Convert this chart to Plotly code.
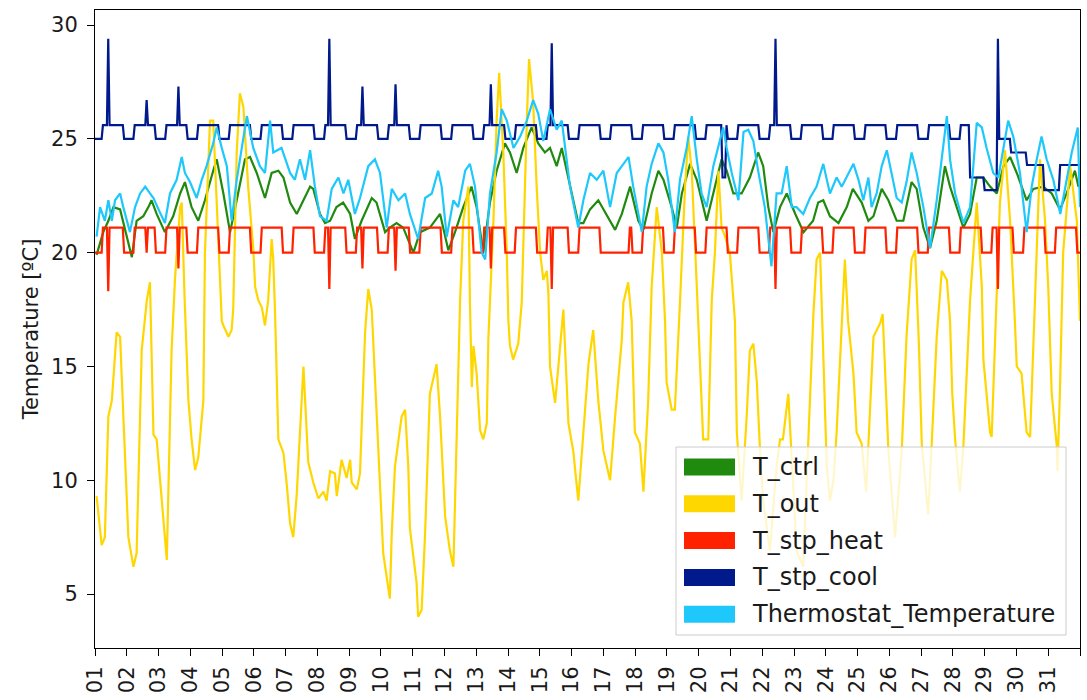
import numpy as np
import pandas as pd
import plotly.graph_objects as go

# ---------------- data (day offsets from the 1st of the month, values in ºC) ----------------
OUT_T = [0.05,0.21,0.31,0.42,0.53,0.68,0.79,1.05,1.21,1.31,1.47,1.63,1.73,1.84,1.94,2.26,2.41,2.52,2.68,2.73,
         2.82,2.94,3.04,3.15,3.25,3.41,3.46,3.57,3.62,3.72,3.88,3.99,4.04,4.20,4.30,4.35,4.46,4.56,4.67,4.82,
         4.98,5.04,5.14,5.25,5.35,5.45,5.56,5.61,5.67,5.77,5.93,6.03,6.14,6.24,6.35,6.56,6.71,6.87,7.03,7.19,
         7.29,7.40,7.55,7.61,7.76,7.92,8.03,8.08,8.24,8.34,8.50,8.60,8.71,8.76,9.07,9.28,9.34,9.44,9.65,9.76,
         9.86,9.91,10.02,10.12,10.17,10.28,10.39,10.54,10.75,10.86,11.02,11.17,11.28,11.38,11.49,11.59,11.75,11.80,11.86,11.91,
         12.01,12.12,12.22,12.33,12.38,12.54,12.64,12.72,12.85,12.96,13.01,13.06,13.16,13.32,13.43,13.59,13.66,13.79,13.90,14.01,
         14.11,14.22,14.27,14.32,14.48,14.64,14.74,14.90,15.05,15.21,15.32,15.53,15.68,15.84,16.00,16.21,16.37,16.58,16.63,16.78,
         16.89,16.99,17.15,17.26,17.41,17.52,17.68,17.84,17.94,17.99,18.15,18.25,18.41,18.57,18.67,18.78,18.94,19.04,19.14,19.30,
         19.41,19.51,19.62,19.72,19.83,19.98,20.14,20.20,20.35,20.51,20.61,20.72,20.83,20.93,21.03,21.24,21.45,21.56,21.65,21.82,
         21.93,22.08,22.29,22.50,22.61,22.71,22.82,22.91,23.03,23.13,23.24,23.34,23.55,23.60,23.70,23.87,23.97,24.13,24.27,24.50,
         24.71,24.79,24.86,24.97,25.18,25.39,25.54,25.70,25.81,25.93,26.02,26.22,26.33,26.49,26.65,26.81,26.91,26.98,27.07,27.22,
         27.33,27.54,27.75,27.91,27.96,28.17,28.22,28.38,28.48,28.64,28.80,28.95,29.01,29.16,29.32,29.43,29.58,29.74,29.90,30.00,
         30.11,30.27,30.29,30.37,30.47,30.69,30.90,31.00]
OUT_V = [9.3,7.15,7.5,12.8,13.5,16.5,16.3,7.5,6.2,6.8,15.7,17.9,18.7,12.0,11.8,6.5,15.7,18.9,22.0,22.2,
         18.0,13.5,11.8,10.45,11.0,13.5,20.0,24.4,25.8,25.8,20.7,17.0,16.8,16.3,16.6,17.5,24.4,27.0,26.4,22.9,
         20.2,18.5,17.9,17.6,16.8,17.9,20.6,19.7,17.2,11.8,11.2,9.9,8.1,7.5,9.4,15.0,10.8,9.9,9.2,9.5,
         9.1,10.4,10.3,9.3,10.9,10.1,10.9,9.9,9.6,10.3,16.5,18.4,17.5,16.0,6.8,4.8,7.7,10.6,12.8,13.1,
         10.6,7.9,6.5,5.5,4.0,4.3,7.7,13.8,15.1,12.8,8.4,6.9,6.2,11.3,17.9,21.4,22.9,17.8,14.1,15.9,
         14.7,12.2,11.8,12.5,16.2,21.4,25.8,27.9,24.4,20.0,17.0,15.9,15.3,16.0,17.8,25.8,28.5,26.6,22.9,20.0,
         18.8,19.2,18.2,15.0,13.4,15.9,17.5,12.5,11.3,9.1,11.3,15.1,16.6,13.5,11.3,10.0,12.8,16.2,17.8,18.7,
         17.0,12.1,11.6,9.5,13.5,18.5,22.0,20.0,17.0,14.3,13.1,13.1,17.8,22.9,25.1,23.6,18.5,15.0,11.8,11.8,
         17.9,20.0,23.6,21.1,20.7,20.0,17.0,12.1,9.1,12.8,15.7,16.0,14.3,11.3,9.1,6.9,10.6,11.8,11.8,13.8,
         10.6,6.9,6.2,13.5,17.3,19.7,20.0,16.0,10.6,9.1,10.0,12.1,17.9,19.7,17.0,14.7,12.1,11.6,9.5,16.3,
         16.9,17.3,15.0,11.3,7.5,11.3,16.3,19.7,20.1,16.0,11.6,8.5,11.5,16.3,19.2,18.8,17.0,13.8,11.8,9.5,
         11.5,17.9,22.2,18.5,15.3,12.1,11.9,17.9,22.2,24.5,21.4,17.0,15.0,14.7,12.1,11.9,17.9,24.1,21.4,18.5,
         13.8,11.5,10.4,14.0,20.0,23.8,21.4,17.0]

CTRL_T = [0.05,0.26,0.42,0.58,0.79,1.00,1.16,1.31,1.52,1.68,1.78,1.94,2.20,2.46,2.68,2.83,3.04,3.25,3.46,3.72,
          3.83,4.04,4.25,4.46,4.72,4.88,5.09,5.35,5.56,5.77,5.93,6.14,6.35,6.56,6.77,6.87,7.08,7.24,7.40,7.60,
          7.81,8.03,8.18,8.39,8.71,8.86,9.13,9.28,9.49,9.70,10.02,10.23,10.54,10.86,11.12,11.33,11.59,11.85,12.01,12.22,
          12.43,12.64,12.90,13.06,13.27,13.48,13.74,13.95,14.16,14.32,14.53,14.69,14.95,15.21,15.37,15.58,15.84,16.21,16.37,16.58,
          16.84,17.10,17.26,17.52,17.73,17.89,18.15,18.31,18.47,18.73,18.94,19.25,19.51,19.72,19.88,20.09,20.35,20.61,20.87,21.03,
          21.19,21.35,21.56,21.77,22.04,22.30,22.60,22.76,22.92,23.13,23.40,23.66,23.85,24.13,24.34,24.50,24.76,24.97,25.23,25.44,
          25.70,25.86,26.07,26.28,26.49,26.75,26.91,27.12,27.33,27.54,27.75,27.96,28.17,28.38,28.59,28.80,29.01,29.32,29.53,29.84,
          30.11,30.37,30.58,30.84,30.95,31.00]
CTRL_V = [19.9,20.9,21.4,22.0,21.9,20.7,19.8,21.4,21.6,22.0,22.3,21.7,20.9,21.6,22.6,23.1,22.0,21.4,22.3,23.6,
          24.1,22.6,20.9,22.3,24.1,24.2,23.5,22.4,23.5,23.6,23.3,22.2,21.7,22.3,22.9,22.8,21.7,21.3,21.4,22.0,
          22.2,21.7,20.6,21.4,22.4,22.2,20.9,21.1,21.3,21.1,20.0,20.9,21.1,21.7,20.1,20.9,22.0,22.9,22.0,20.0,
          22.2,23.6,24.8,24.4,23.5,24.6,25.5,24.8,24.4,24.6,23.8,24.6,22.9,21.3,21.3,21.9,22.3,21.4,21.0,21.7,
          22.9,21.4,21.0,22.6,23.6,23.2,22.0,21.1,22.6,23.9,23.2,21.4,22.9,24.1,23.6,22.6,22.6,23.3,24.4,23.8,
          22.0,20.9,22.0,22.6,21.7,20.9,21.4,22.2,22.3,21.6,21.3,22.0,22.8,22.2,21.4,21.6,22.8,22.3,21.4,21.4,
          23.1,22.8,21.1,20.2,21.4,23.8,22.9,22.0,21.1,21.7,23.3,23.3,22.9,22.6,23.8,24.2,23.5,22.3,22.8,22.9,
          22.6,21.9,22.6,23.6,22.9,23.0]

THERMO_T = [0.05,0.16,0.31,0.42,0.53,0.63,0.79,0.89,1.10,1.26,1.42,1.58,1.73,1.84,2.00,2.20,2.36,2.57,2.73,2.83,
            2.99,3.20,3.36,3.51,3.72,3.83,3.99,4.15,4.30,4.46,4.62,4.78,4.98,5.19,5.35,5.51,5.61,5.87,6.14,6.29,
            6.45,6.61,6.77,6.92,7.08,7.29,7.45,7.66,7.82,7.97,8.18,8.34,8.60,8.81,8.97,9.18,9.34,9.55,9.76,9.91,
            10.17,10.39,10.60,10.80,10.91,11.07,11.28,11.43,11.65,11.80,11.96,12.17,12.28,12.43,12.64,12.80,12.96,13.17,13.38,13.59,
            13.79,13.95,14.11,14.32,14.53,14.69,14.95,15.11,15.21,15.37,15.58,15.79,16.00,16.21,16.42,16.58,16.79,16.94,17.21,17.36,
            17.52,17.73,17.89,18.04,18.25,18.41,18.62,18.78,18.94,19.09,19.25,19.46,19.67,19.77,19.88,20.04,20.25,20.41,20.56,20.72,
            20.87,21.08,21.29,21.45,21.61,21.77,21.93,22.08,22.29,22.50,22.71,22.92,23.13,23.34,23.50,23.87,24.03,24.18,24.34,24.44,
            24.60,24.76,24.92,25.07,25.23,25.39,25.54,25.70,25.86,26.07,26.28,26.49,26.65,26.81,26.91,27.07,27.33,27.54,27.75,27.91,
            28.06,28.27,28.43,28.59,28.74,28.90,29.11,29.32,29.48,29.64,29.79,29.95,30.16,30.38,30.53,30.74,30.93,31.00]
THERMO_V = [20.7,22.0,21.4,22.3,21.4,22.3,22.6,22.0,20.9,22.0,22.6,22.9,22.6,22.4,21.9,21.3,22.6,23.2,24.2,23.5,
            23.1,22.4,23.2,23.8,24.8,25.5,24.6,23.8,21.4,23.2,24.6,26.0,24.6,23.8,23.5,25.8,24.4,24.6,23.5,23.2,
            24.1,23.2,24.5,22.9,21.6,21.4,22.8,23.3,22.6,23.2,21.7,22.4,23.8,24.1,23.5,21.1,22.8,22.3,22.6,21.7,
            20.6,22.4,22.6,23.6,22.9,20.7,22.3,22.0,23.6,23.9,22.9,20.0,19.7,22.6,24.4,26.3,25.8,24.6,25.1,25.8,
            26.7,26.1,24.9,26.3,25.4,25.8,22.9,21.7,21.1,22.3,23.5,23.2,23.6,22.0,23.5,23.8,24.2,22.9,20.9,22.9,
            23.9,24.8,24.4,23.2,20.9,23.2,24.6,26.0,24.1,22.6,22.0,23.8,24.9,25.5,24.6,23.5,22.3,25.3,25.4,24.9,
            23.6,22.0,19.4,22.6,22.6,23.8,22.0,22.0,21.7,22.4,22.9,23.9,22.6,23.3,22.9,23.9,23.2,22.3,23.3,22.0,
            22.6,23.8,24.5,23.5,22.4,22.2,23.1,24.4,23.5,22.0,20.2,22.3,24.1,26.0,24.1,22.6,21.3,22.0,25.7,25.5,
            24.6,23.5,23.3,24.6,25.8,25.1,23.5,20.9,22.9,24.1,25.1,24.1,23.2,21.7,22.9,24.4,25.5,22.0]

# set-point levels
HEAT_DAY, HEAT_NIGHT = 21.1, 20.0
COOL_DAY, COOL_NIGHT = 25.6, 25.0
# night set-back windows, in hours from the start of the month (low level from start up to end-1)
NIGHTS = [(-2, 6), (22, 30), (46, 54), (70, 78), (94, 102), (118, 126), (142, 150), (166, 174),
          (190, 198), (214, 222), (238, 246), (262, 270), (286, 294), (310, 318), (334, 342), (358, 366),
          (382, 390), (406, 414), (430, 438), (454, 462), (478, 486), (502, 510), (526, 534), (550, 558),
          (574, 582), (598, 606), (622, 630), (646, 654), (670, 678), (694, 702), (718, 726), (742, 750)]
# longer departures from the schedule: (start hour, end hour, value)
HEAT_OVERRIDES = [(390, 404, 20.0)]
COOL_OVERRIDES = [(474, 477, 23.3), (661, 672, 23.3), (672, 682, 22.75), (683, 692, 25.0),
                  (692, 704, 24.4), (704, 717, 23.85), (717, 729, 22.75), (729, 745, 23.85)]
# short events: (hour, heating set-point, cooling set-point)
EVENTS = [(10, 18.3, 29.4), (39, 20.0, 26.7), (63, 19.3, 27.3), (177, 18.4, 29.4), (202, 19.3, 27.3),
          (227, 19.2, 27.4), (299, 19.3, 27.4), (345, 18.4, 29.2), (514, 18.4, 29.4), (682, 18.4, 29.4)]

MONTH_START = "2019-07-01"
N_DAYS = 31
Y_TICKS = [5, 10, 15, 20, 25, 30]

# ---------------- build set-point series ----------------
hours = np.arange(0, N_DAYS * 24 + 1)
heat = np.full(hours.shape, HEAT_DAY)
cool = np.full(hours.shape, COOL_DAY)
for a, b in NIGHTS:
    m = (hours >= a) & (hours < b)
    heat[m] = HEAT_NIGHT
    cool[m] = COOL_NIGHT
for a, b, v in HEAT_OVERRIDES:
    heat[(hours >= a) & (hours < b)] = v
for a, b, v in COOL_OVERRIDES:
    cool[(hours >= a) & (hours < b)] = v
for h, hv, cv in EVENTS:
    heat[hours == h] = hv
    cool[hours == h] = cv

base = pd.Timestamp(MONTH_START)
def tx(days):
    return base + pd.to_timedelta(np.asarray(days, dtype=float) * 24.0, unit="h")

hx = base + pd.to_timedelta(hours, unit="h")

C_CTRL = "#1f8a0e"
C_OUT = "#ffd700"
C_HEAT = "#ff2200"
C_COOL = "#001a8c"
C_TH = "#1ec8fb"

fig = go.Figure()
lw = 2.2
fig.add_trace(go.Scatter(x=tx(CTRL_T), y=CTRL_V, mode="lines", line=dict(color=C_CTRL, width=lw), name="T_ctrl"))
fig.add_trace(go.Scatter(x=tx(OUT_T), y=OUT_V, mode="lines", line=dict(color=C_OUT, width=lw), name="T_out"))
fig.add_trace(go.Scatter(x=hx, y=heat, mode="lines", line=dict(color=C_HEAT, width=lw), name="T_stp_heat"))
fig.add_trace(go.Scatter(x=hx, y=cool, mode="lines", line=dict(color=C_COOL, width=lw), name="T_stp_cool"))
fig.add_trace(go.Scatter(x=tx(THERMO_T), y=THERMO_V, mode="lines", line=dict(color=C_TH, width=lw),
                         name="Thermostat_Temperature"))

# ---------------- layout ----------------
L, R, T, B = 95, 7, 10, 52
W, H = 1087, 700
pw, ph = W - L - R, H - T - B

def px2paper(X, Y):
    return (X - L) / pw, (H - B - Y) / ph

shapes = []
annotations = []
# legend frame
x0, y1 = px2paper(676, 447)
x1, y0 = px2paper(1066, 635)
shapes.append(dict(type="rect", xref="paper", yref="paper", x0=x0, x1=x1, y0=y0, y1=y1,
                   fillcolor="rgba(255,255,255,0.8)", line=dict(color="#cccccc", width=1), layer="above"))
leg_names = ["T_ctrl", "T_out", "T_stp_heat", "T_stp_cool", "Thermostat_Temperature"]
leg_cols = [C_CTRL, C_OUT, C_HEAT, C_COOL, C_TH]
for i, (nm, c) in enumerate(zip(leg_names, leg_cols)):
    yc = 467 + i * 36.8
    px0, py1 = px2paper(684, yc - 8.5)
    px1, py0 = px2paper(735, yc + 8.5)
    shapes.append(dict(type="rect", xref="paper", yref="paper", x0=px0, x1=px1, y0=py0, y1=py1,
                       fillcolor=c, line=dict(width=0), layer="above"))
    tx0, ty = px2paper(750, yc)
    annotations.append(dict(xref="paper", yref="paper", x=tx0, y=ty, text=nm, showarrow=False,
                            xanchor="left", yanchor="middle",
                            font=dict(family="DejaVu Sans", size=24, color="#1a1a1a")))

fig.update_layout(
    width=W, height=H,
    margin=dict(l=L, r=R, t=T, b=B),
    paper_bgcolor="white", plot_bgcolor="white",
    showlegend=False,
    font=dict(family="DejaVu Sans", color="#1a1a1a"),
    shapes=shapes, annotations=annotations,
)
fig.update_xaxes(
    range=[base, base + pd.Timedelta(days=N_DAYS)],
    tickformat="%d", dtick=86400000, tick0=base,
    tickangle=-90, ticks="outside", ticklen=7, tickwidth=1, tickcolor="black", ticklabelstandoff=2,
    showline=True, linecolor="black", linewidth=1, mirror=True,
    showgrid=False, zeroline=False, tickfont=dict(size=21, family="DejaVu Sans", color="#1a1a1a"),
)
fig.update_yaxes(
    range=[2.63, 30.66], tickvals=Y_TICKS, ticks="outside", ticklen=7, tickwidth=1, tickcolor="black",
    ticklabelstandoff=5,
    showline=True, linecolor="black", linewidth=1, mirror=True,
    showgrid=False, zeroline=False, tickfont=dict(size=21, family="DejaVu Sans", color="#1a1a1a"),
    title=dict(text="Temperature [ºC]", font=dict(size=21, family="DejaVu Sans", color="#1a1a1a"), standoff=6),
)

fig.write_html("out.html")
